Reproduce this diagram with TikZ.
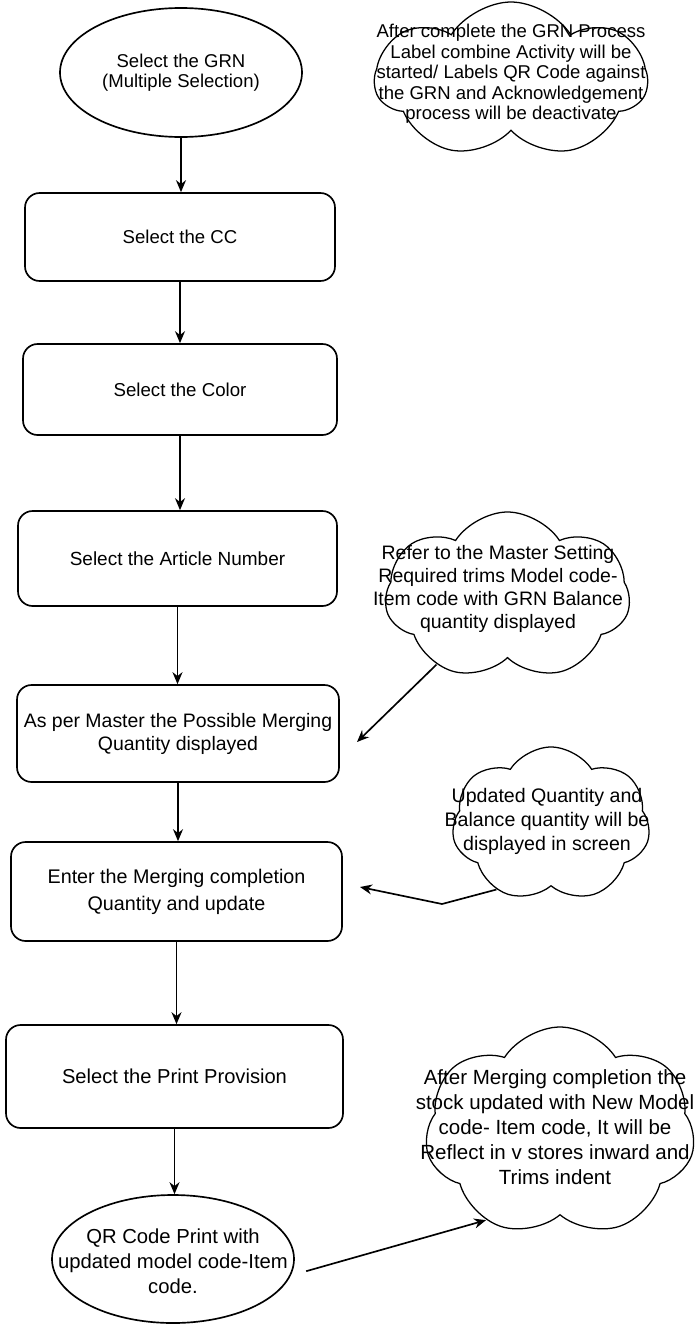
\documentclass[tikz,border=0pt]{standalone}
\usepackage{fontspec}
\setmainfont{Liberation Sans}
\usetikzlibrary{shapes.geometric,shapes.symbols,arrows.meta,calc}
\newcommand{\fs}[2]{\fontsize{#1}{#2}\selectfont}
\begin{document}
\begin{tikzpicture}[x=0.75pt,y=-0.75pt,
  every node/.style={font=\fs{14}{20}, align=center, text=black},
  stepbox/.style={draw, line width=1.25pt, rounded corners=11pt, inner sep=0pt},
  oval/.style={draw, ellipse, line width=1.25pt, inner sep=0pt},
  puff/.style={draw, cloud, cloud puffs=7, cloud puff arc=115, cloud ignores aspect, line width=0.95pt, inner sep=0pt},
  arr/.style={-{Stealth[length=9pt,width=7.5pt]}, line width=1.25pt}
]
\useasboundingbox[fill=white] (0,0) rectangle (696,1324);

% main flow
\node[oval, minimum width=181.5pt, minimum height=96.75pt] (grn) at (181,72.5) {};
\node[font=\fs{13.9}{15}] (grnt) at (grn.center) {Select the GRN\\(Multiple Selection)};
\node[stepbox, minimum width=232.5pt, minimum height=66pt, font=\fs{13.95}{20}] (cc) at (180,237) {Select the CC};
\node[stepbox, minimum width=235.5pt, minimum height=68.25pt, font=\fs{14}{20}] (color) at (180,389.5) {Select the Color};
\node[stepbox, minimum width=239.25pt, minimum height=71.25pt, font=\fs{14.25}{20}] (article) at (177.5,558.5) {Select the Article Number};
\node[stepbox, minimum width=241.5pt, minimum height=72.75pt, font=\fs{14.6}{17.25}] (merge) at (178,733.5) {As per Master the Possible Merging\\Quantity displayed};
\node[stepbox, minimum width=248.25pt, minimum height=74.25pt, font=\fs{14.8}{20.25}] (enter) at (176.5,891.5) {Enter the Merging completion\\Quantity and update};
\node[stepbox, minimum width=252.75pt, minimum height=77.25pt, font=\fs{15.1}{20}] (print) at (174.5,1076.5) {Select the Print Provision};
\node[oval, minimum width=181.5pt, minimum height=96pt] (qr) at (173,1259) {};
\node[font=\fs{15.2}{18.75}] (qrt) at ([yshift=-2pt]qr.center) {QR Code Print with\\updated model code-Item\\code.};

\draw[arr] (grn.south) -- (grn.south |- cc.north);
\draw[arr] (cc.south) -- (cc.south |- color.north);
\draw[arr] (color.south) -- (color.south |- article.north);
\draw[arr] (article.south) -- (article.south |- merge.north);
\draw[arr] (merge.south) -- (merge.south |- enter.north);
\draw[arr] (enter.south) -- (enter.south |- print.north);
\draw[arr] (print.south) -- (print.south |- qr.north);

% clouds
\node[puff, minimum width=204pt, minimum height=117pt] (c1) at (511,80) {};
\node[font=\fs{13.9}{15.4}] (t1) at (511,74) {After complete the GRN Process\\Label combine Activity will be\\started/ Labels QR Code against\\the GRN and Acknowledgement\\process will be deactivate};

\node[puff, minimum width=183.75pt, minimum height=126pt] (c2) at (507.5,596) {};
\node[font=\fs{14.6}{17.25}] (t2) at (498,589) {Refer to the Master Setting\\Required trims Model code-\\Item code with GRN Balance\\quantity displayed};

\node[puff, minimum width=148.5pt, minimum height=116.25pt] (c3) at (551,824.5) {};
\node[font=\fs{14.7}{18}] (t3) at (547,821) {Updated Quantity and\\Balance quantity will be\\displayed in screen};

\node[puff, minimum width=202.5pt, minimum height=157.5pt] (c4) at (560,1132) {};
\node[font=\fs{15.4}{18.75}] (t4) at (555,1127) {After Merging completion the\\stock updated with New Model\\code- Item code, It will be\\Reflect in v stores inward and\\Trims indent};

% note connectors
\coordinate (m2in) at (357,742);
\coordinate (bend3) at (442,904);
\coordinate (e3in) at (360,887);
\draw[arr] (c2.224) -- (m2in);
\draw[arr] (c3.230) -- (bend3) -- (e3in);
\draw[arr, shorten <=12pt] (qr.-8) -- (c4.230);
\end{tikzpicture}
\end{document}
